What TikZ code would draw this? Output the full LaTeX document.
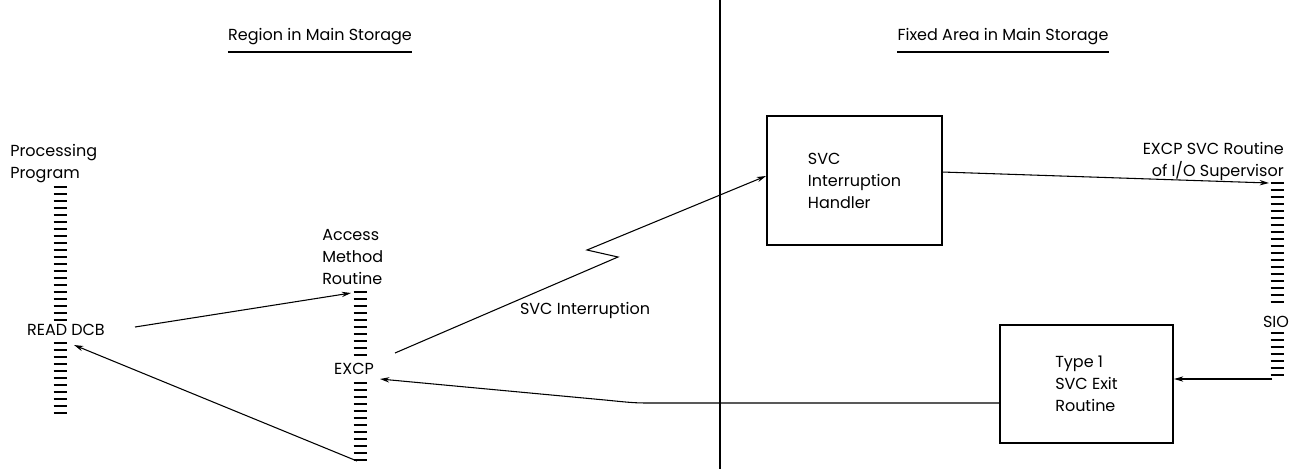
\documentclass[tikz,border=0pt]{standalone}
\usepackage{fontspec}
\setmainfont{Poppins}
\usetikzlibrary{arrows.meta}

% ladder of short horizontal ticks: x, top y, number of ticks
\newcommand{\tickladder}[3]{%
  \foreach \i in {1,...,#3}{%
    \draw[tick] ({#1-6.5},{#2+(\i-1)*7}) -- ({#1+6.5},{#2+(\i-1)*7});
  }%
}

\begin{document}
\begin{tikzpicture}[x=0.75pt,y=-0.75pt,
  lbl/.style={font=\fontsize{12}{16.5}\selectfont, inner sep=0pt},
  hdr/.style={font=\fontsize{12}{16.5}\selectfont, inner sep=0pt},
  conn/.style={line width=0.8pt, -{Stealth[length=7pt,width=4pt]}},
  wire/.style={line width=0.8pt},
  procbox/.style={draw, line width=1.3pt, align=left,
    font=\fontsize{12}{16.5}\selectfont},
  tick/.style={line width=1.9pt},
  rule/.style={line width=1.3pt}]

\useasboundingbox (0,0) rectangle (1291,469);

% divider between the two storage areas
\coordinate (divTop) at (720,0);
\coordinate (divBot) at (720,469);
\draw[rule] (divTop) -- (divBot);

% headings
\node[hdr] (hdrL) at (320,37) {Region in Main Storage};
\draw[rule] ([yshift=-5]hdrL.south west) -- ([yshift=-5]hdrL.south east);
\node[hdr] (hdrR) at (1003,37) {Fixed Area in Main Storage};
\draw[rule] ([yshift=-5]hdrR.south west) -- ([yshift=-5]hdrR.south east);

% processing program
\node[lbl, anchor=west, align=left] (ppLbl) at (10,164) {Processing\\Program};
\tickladder{60}{187}{20}
\node[lbl] (rdcb) at (66,330) {READ\hspace{3pt}DCB};
\tickladder{60}{343}{11}

% access method routine
\node[lbl, anchor=west, align=left] (amLbl) at (322,257) {Access\\Method\\Routine};
\tickladder{360}{292}{10}
\node[lbl] (excp) at (354,369) {EXCP};
\tickladder{360}{383}{12}

% I/O supervisor routine
\node[lbl, anchor=east, align=right] (ioLbl) at (1284,161) {EXCP SVC Routine\\of I/O Supervisor};
\tickladder{1277}{183}{18}
\node[lbl] (sio) at (1276,322) {SIO};
\tickladder{1277}{333}{7}

% boxes
\node[procbox, minimum width=131pt, minimum height=97pt] (svc) at (854.5,180.5)
  {SVC\\Interruption\\Handler};
\node[procbox, minimum width=130pt, minimum height=88.5pt] (exit) at (1086.5,384)
  {Type 1\\SVC Exit\\Routine};

\node[lbl] (svcInt) at (585,310) {SVC Interruption};

% connector end points on the ladders
\coordinate (readOut) at (135,327);
\coordinate (amTop) at (351,293);
\coordinate (amBot) at (357,461);
\coordinate (readIn) at (74,345);
\coordinate (excpOut) at (395,353);
\coordinate (zagA) at (618,257);
\coordinate (zagB) at (587,250);
\coordinate (svcIn) at (766,176);
\coordinate (svcOut) at (942,172);
\coordinate (ioTop) at (1269,183);
\coordinate (sioBot) at (1272,379);
\coordinate (exitOut) at (1000,403);
\coordinate (bend) at (655,403);
\coordinate (excpIn) at (380,379);

% connectors
\draw[conn] (readOut) -- (amTop);
\draw[conn] (amBot) -- (readIn);
\draw[conn] (excpOut) -- (zagA) -- (zagB) -- (svcIn);
\draw[conn] (svcOut) -- (ioTop);
\draw[conn] (sioBot) -- (sioBot -| exit.east);
\draw[conn] (exitOut) -- (bend) .. controls (635,403) .. (605,400) -- (excpIn);

\end{tikzpicture}
\end{document}
